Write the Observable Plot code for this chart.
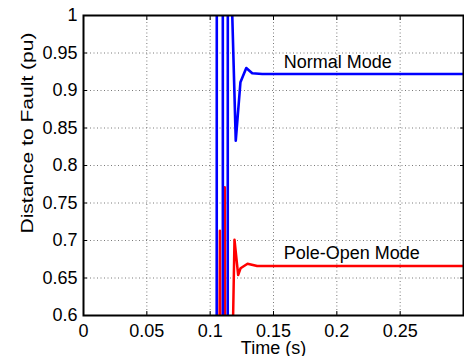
<!DOCTYPE html>
<html><head><meta charset="utf-8">
<script src="https://cdn.jsdelivr.net/npm/d3@7"></script>
<script src="https://cdn.jsdelivr.net/npm/@observablehq/plot@0.6"></script>
<style>body{margin:0;background:#fff} svg{display:block}</style>
</head><body><div id="chart"></div>
<script>
const xTicks = [0, 0.05, 0.1, 0.15, 0.2, 0.25];
const xTickLabels = ["0", "0.05", "0.1", "0.15", "0.2", "0.25"];
const yTicks = [0.6, 0.65, 0.7, 0.75, 0.8, 0.85, 0.9, 0.95, 1];
const yTickLabels = ["0.6", "0.65", "0.7", "0.75", "0.8", "0.85", "0.9", "0.95", "1"];

// Normal Mode (blue)
const normalTime  = [0.1051, 0.1053, 0.1099, 0.1101, 0.1138, 0.1140, 0.1155, 0.1158, 0.1202, 0.1239, 0.1285, 0.1332, 0.1411, 0.3];
const normalValue = [0.2,    1.5,    1.5,    0.2,    0.2,    1.5,    1.5,    1.1,    0.833,  0.911,  0.930,  0.923,  0.922,  0.922];
// Pole-Open Mode (red)
const poleTime  = [0.1066, 0.1077, 0.1088, 0.1110, 0.1115, 0.1120, 0.1150, 0.1176, 0.1192, 0.1221, 0.1240, 0.1295, 0.1371, 0.3];
const poleValue = [0.2,    0.713,  0.2,    0.2,    0.771,  0.2,    0.2,    0.55,   0.701,  0.654,  0.663,  0.669,  0.666,  0.666];

const annotLabels = ["Normal Mode", "Pole-Open Mode"];
const annotX = [0.158, 0.158];
const annotY = [0.9378, 0.6835];

const xLabel = "Time (s)";
const yLabel = "Distance to Fault (pu)";

const normalRows = normalTime.map((t, i) => ({t, v: normalValue[i]}));
const poleRows = poleTime.map((t, i) => ({t, v: poleValue[i]}));
const annotRows = annotLabels.map((s, i) => ({s, x: annotX[i], y: annotY[i]}));

const gridStyle = {stroke: "#7a7a7a", strokeOpacity: 1, strokeWidth: 1, strokeDasharray: "1,2.5"};
const font = "'Liberation Sans', Arial, Helvetica, sans-serif";

const chart = Plot.plot({
  width: 464, height: 356,
  marginLeft: 83, marginRight: 1, marginTop: 15, marginBottom: 41,
  style: {fontFamily: font, fontSize: "18px", background: "#fff", color: "#000"},
  x: {domain: [0, 0.3]},
  y: {domain: [0.6, 1]},
  marks: [
    Plot.gridX(xTicks.slice(1), gridStyle),
    Plot.gridY(yTicks.slice(1, -1), gridStyle),
    Plot.line(poleRows, {x: "t", y: "v", stroke: "#ff0000", strokeWidth: 2.5, clip: true}),
    Plot.line(normalRows, {x: "t", y: "v", stroke: "#0000ff", strokeWidth: 2.6, clip: true}),
    Plot.text(annotRows, {x: "x", y: "y", text: "s", textAnchor: "start", lineAnchor: "middle", fontSize: 18, fill: "#000"}),
    Plot.axisX(xTicks, {anchor: "bottom", tickSize: 0, tickPadding: 9, tickFormat: d => xTickLabels[xTicks.indexOf(d)], label: null, fontSize: 18}),
    Plot.axisY(yTicks, {anchor: "left", tickSize: 0, tickPadding: 6, tickFormat: d => yTickLabels[yTicks.indexOf(d)], label: null, fontSize: 18}),
    Plot.axisX(xTicks, {anchor: "bottom", tickSize: -4, tickFormat: () => "", label: null}),
    Plot.axisX(xTicks, {anchor: "top", tickSize: -4, tickFormat: () => "", label: null}),
    Plot.axisY(yTicks, {anchor: "left", tickSize: -4, tickFormat: () => "", label: null}),
    Plot.axisY(yTicks, {anchor: "right", tickSize: -4, tickFormat: () => "", label: null}),
    Plot.text([xLabel], {frameAnchor: "bottom", lineAnchor: "top", dy: 25.7, fontSize: 18, fill: "#000"}),
    Plot.text([yLabel], {frameAnchor: "left", rotate: -90, textAnchor: "start", dx: -55.5, dy: 68, fontSize: 17, fill: "#000"}),
    Plot.frame({stroke: "#000", strokeWidth: 2})
  ]
});

d3.select(chart).selectAll("text")
  .filter(function() { return this.textContent === yLabel; })
  .attr("textLength", 201).attr("lengthAdjust", "spacingAndGlyphs");

document.getElementById("chart").appendChild(chart);
</script>
</body></html>
